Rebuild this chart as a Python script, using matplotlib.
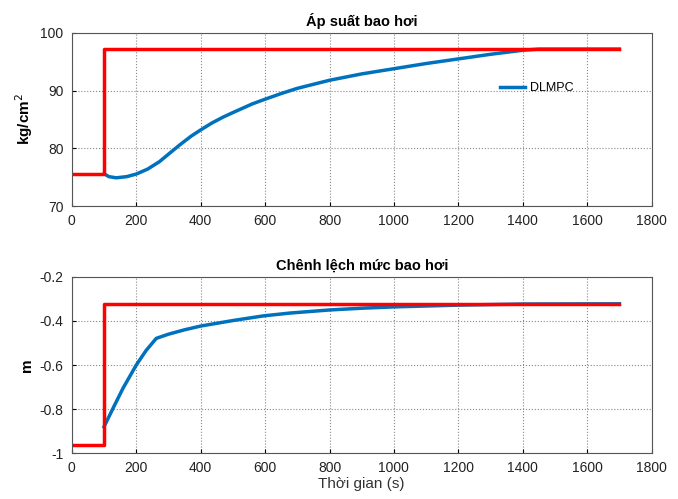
import numpy as np
import matplotlib
matplotlib.use('Agg')
import matplotlib.pyplot as plt

plt.rcParams['font.family'] = ['Liberation Sans', 'DejaVu Sans']

# setpoint (red step)
sp_t = [0, 100, 100, 1700]
p_sp = [75.6, 75.6, 97.2, 97.2]
lv_sp = [-0.965, -0.965, -0.322, -0.322]

# DLMPC response, drum pressure
p_t = [100, 115, 138, 170, 200, 235, 272, 300, 335, 370, 400, 435, 469, 500,
       532, 560, 594, 650, 700, 750, 800, 900, 1000, 1100, 1200, 1300, 1400,
       1450, 1700]
p_val = [75.6, 75.1, 74.9, 75.1, 75.55, 76.4, 77.7, 79.0, 80.6, 82.1, 83.2,
         84.4, 85.4, 86.2, 87.0, 87.7, 88.4, 89.5, 90.4, 91.1, 91.8, 92.9, 93.8,
         94.7, 95.5, 96.3, 97.0, 97.2, 97.2]

# DLMPC response, drum level difference
lv_t = [100, 130, 159, 200, 230, 262, 300, 350, 400, 500, 594, 677, 800, 900,
        1000, 1200, 1400, 1700]
lv_val = [-0.88, -0.79, -0.705, -0.60, -0.535, -0.479, -0.46, -0.44, -0.423,
          -0.398, -0.377, -0.364, -0.35, -0.342, -0.336, -0.328, -0.323, -0.322]

blue = '#0072BD'
red = '#FF0000'

fig = plt.figure(figsize=(6.78, 4.99), dpi=100)
ax1 = fig.add_axes([0.106, 0.587, 0.855, 0.347])
ax2 = fig.add_axes([0.106, 0.092, 0.855, 0.353])

ax1.plot(p_t, p_val, color=blue, lw=2.5, label='DLMPC')
ax1.plot(sp_t, p_sp, color=red, lw=2.5)
ax2.plot(lv_t, lv_val, color=blue, lw=2.5)
ax2.plot(sp_t, lv_sp, color=red, lw=2.5)

ax1.set_ylim(70, 100)
ax1.set_yticks([70, 80, 90, 100])
ax2.set_ylim(-1, -0.2)
ax2.set_yticks([-1, -0.8, -0.6, -0.4, -0.2])
ax2.set_yticklabels(['-1', '-0.8', '-0.6', '-0.4', '-0.2'])

for ax in (ax1, ax2):
    ax.set_xlim(0, 1800)
    ax.set_xticks(range(0, 1801, 200))
    ax.grid(True, linestyle=':', color='#888888', lw=0.8)
    ax.tick_params(labelsize=10, direction='in', length=3, pad=6,
                   labelcolor='#222222')
    for s in ax.spines.values():
        s.set_color('#555555')

ax1.set_title('Áp suất bao hơi', fontsize=10.5, fontweight='bold', pad=5)
ax2.set_title('Chênh lệch mức bao hơi', fontsize=10.5, fontweight='bold', pad=5)
ax1.set_ylabel('kg/cm$^2$', fontsize=11, fontweight='bold', labelpad=4)
ax2.set_ylabel('m', fontsize=11, fontweight='bold', labelpad=4)
ax2.set_xlabel('Thời gian (s)', fontsize=11, labelpad=1, color='#333333')

ax1.legend(loc='center left', bbox_to_anchor=(0.72, 0.68), frameon=False,
           fontsize=9, handlelength=2.0, handletextpad=0.35)

fig.savefig('out.png', dpi=100)
